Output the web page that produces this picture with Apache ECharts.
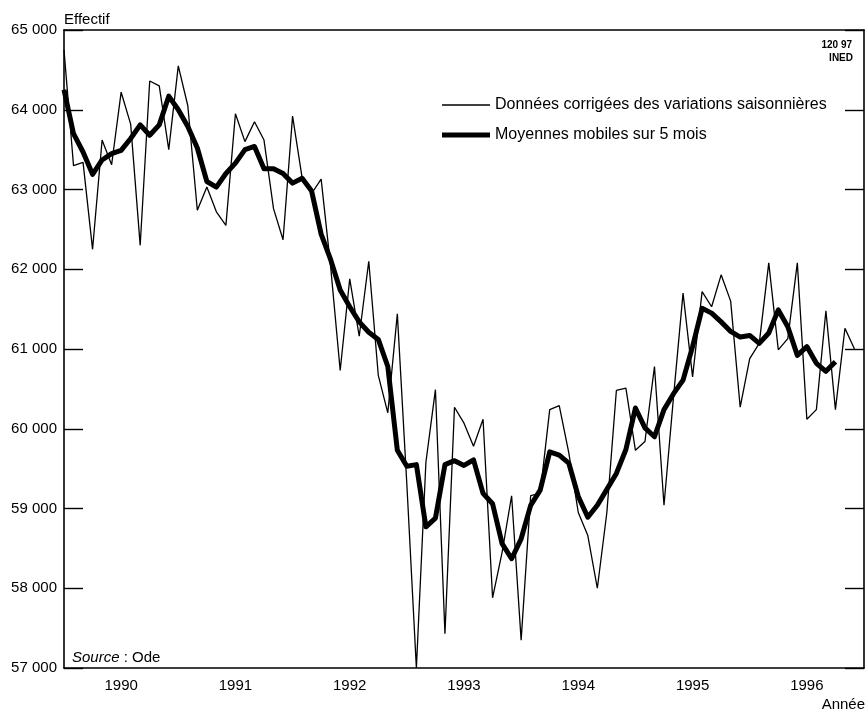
<!DOCTYPE html>
<html>
<head>
<meta charset="utf-8">
<title>Effectif</title>
<script src="https://cdn.jsdelivr.net/npm/echarts@6/dist/echarts.min.js"></script>
<style>
  html, body { margin: 0; padding: 0; background: #fff; }
  #main { width: 866px; height: 712px; }
</style>
</head>
<body>
<div id="main"></div>
<script>
// années (une graduation par année, libellé au milieu)
var annees = ['1990', '1991', '1992', '1993', '1994', '1995', '1996'];

// axe vertical
var yMin = 57000;
var yMax = 65000;
var yPas = 1000;

// nombre de mois couverts par l'axe horizontal (janv. 1990 -> déc. 1996)
var nbMois = 84;

// données mensuelles corrigées des variations saisonnières (à partir de janv. 1990)
var donneesCvs = [
  64750, 63300, 63340, 62250, 63620, 63310, 64220, 63820, 62300, 64360, 64300, 63500,
  64550, 64050, 62740, 63030, 62720, 62550, 63950, 63600, 63850, 63620, 62760, 62370,
  63920, 63150, 62950, 63130, 62030, 60730, 61880, 61160, 62100, 60670, 60200, 61440,
  59300, 57000, 59580, 60490, 57430, 60270, 60070, 59780, 60120, 57880, 58450, 59160,
  57350, 59160, 59190, 60240, 60290, 59700, 58950, 58660, 58000, 58950, 60480, 60510,
  59730, 59840, 60780, 59040, 60400, 61700, 60650, 61720, 61530, 61930, 61600, 60270,
  60880, 61070, 62080, 60990, 61130, 62080, 60120, 60240, 61480, 60240, 61260, 61000
];

// moyennes mobiles sur 5 mois
var moyennes5 = [
  64250, 63700, 63470, 63190, 63370, 63450, 63490, 63640, 63810, 63680, 63810, 64170,
  64000, 63790, 63520, 63100, 63030, 63200, 63330, 63500, 63540, 63260, 63260, 63200,
  63080, 63140, 62980, 62440, 62120, 61740, 61530, 61340, 61210, 61120, 60780, 59730,
  59530, 59550, 58770, 58880, 59550, 59600, 59540, 59610, 59190, 59060, 58560, 58370,
  58620, 59040, 59230, 59710, 59670, 59570, 59150, 58890, 59040, 59240, 59440, 59740,
  60260, 60010, 59900, 60240, 60440, 60610, 61030, 61510, 61450, 61340, 61220, 61150,
  61170, 61070, 61200, 61490, 61280, 60920, 61030, 60820, 60720, 60840
];

(function() {
  var myChart = echarts.init(document.getElementById('main'));
  var police = '"Liberation Sans", Arial, Helvetica, sans-serif';

  function points(arr) {
    return arr.map(function(v, i) { return [i, v]; });
  }

  var option = {
    animation: false,
    backgroundColor: '#fff',
    textStyle: { fontFamily: police, color: '#000' },
    grid: {
      left: 64,
      right: 2,
      top: 30,
      bottom: 44
    },
    legend: {
      orient: 'vertical',
      left: 442,
      top: 97,
      padding: 0,
      itemWidth: 48,
      itemHeight: 14,
      itemGap: 14,
      selectedMode: false,
      textStyle: { fontSize: 16, color: '#000', fontFamily: police },
      data: [
        { name: 'Données corrigées des variations saisonnières', icon: 'path://M0,0L48,0L48,1.4L0,1.4Z' },
        { name: 'Moyennes mobiles sur 5 mois', icon: 'path://M0,0L50,0L50,5L0,5Z' }
      ]
    },
    xAxis: [{
      // libellés des années et graduations du bas
      type: 'category',
      position: 'bottom',
      data: annees,
      boundaryGap: true,
      axisLine: { lineStyle: { color: '#000', width: 1.6 } },
      axisTick: { inside: true, length: 19, lineStyle: { color: '#000', width: 1.4 } },
      axisLabel: { color: '#000', fontSize: 15, margin: 10, fontFamily: police },
      splitLine: { show: false }
    }, {
      // graduations du haut
      type: 'category',
      position: 'top',
      data: annees,
      boundaryGap: true,
      axisLine: { lineStyle: { color: '#000', width: 1.6 } },
      axisTick: { inside: true, length: 17, lineStyle: { color: '#000', width: 1.4 } },
      axisLabel: { show: false },
      splitLine: { show: false }
    }, {
      // axe des mois pour les courbes
      type: 'value',
      min: 0,
      max: nbMois,
      show: false
    }],
    yAxis: [{
      type: 'value',
      name: 'Effectif',
      nameLocation: 'end',
      nameGap: 3,
      nameTextStyle: { align: 'left', verticalAlign: 'bottom', fontSize: 15, color: '#000', fontFamily: police },
      min: yMin,
      max: yMax,
      interval: yPas,
      axisLine: { show: true, lineStyle: { color: '#000', width: 1.6 } },
      axisTick: { show: true, inside: true, length: 19, lineStyle: { color: '#000', width: 1.4 } },
      axisLabel: {
        color: '#000',
        fontSize: 15,
        margin: 7,
        fontFamily: police,
        formatter: function(v) {
          var s = String(v);
          return s.slice(0, s.length - 3) + ' ' + s.slice(-3);
        }
      },
      splitLine: { show: false }
    }, {
      type: 'value',
      position: 'right',
      min: yMin,
      max: yMax,
      interval: yPas,
      axisLine: { show: true, lineStyle: { color: '#000', width: 1.6 } },
      axisTick: { show: true, inside: true, length: 19, lineStyle: { color: '#000', width: 1.4 } },
      axisLabel: { show: false },
      splitLine: { show: false }
    }],
    graphic: [{
      type: 'text',
      right: 14,
      top: 40,
      style: { text: '120 97', font: 'bold 10px ' + police, fill: '#000', textAlign: 'right' }
    }, {
      type: 'text',
      right: 13,
      top: 53,
      style: { text: 'INED', font: 'bold 10px ' + police, fill: '#000', textAlign: 'right' }
    }, {
      type: 'text',
      left: 72,
      top: 650,
      style: {
        text: '{i|Source} : Ode',
        rich: {
          i: { fontStyle: 'italic', fontSize: 15, fontFamily: police, fill: '#000' }
        },
        fontSize: 15,
        fontFamily: police,
        fill: '#000'
      }
    }, {
      type: 'text',
      right: 1,
      top: 697,
      style: { text: 'Année', fontSize: 15, fontFamily: police, fill: '#000' }
    }],
    series: [{
      name: 'Données corrigées des variations saisonnières',
      type: 'line',
      xAxisIndex: 2,
      yAxisIndex: 0,
      data: points(donneesCvs),
      symbol: 'none',
      lineStyle: { color: '#000', width: 1.3 },
      itemStyle: { color: '#000' },
      emphasis: { disabled: true },
      z: 3
    }, {
      name: 'Moyennes mobiles sur 5 mois',
      type: 'line',
      xAxisIndex: 2,
      yAxisIndex: 0,
      data: points(moyennes5),
      symbol: 'none',
      lineStyle: { color: '#000', width: 5, join: 'round' },
      itemStyle: { color: '#000' },
      emphasis: { disabled: true },
      z: 4
    }]
  };

  myChart.setOption(option);
  window.addEventListener('resize', function() {
    myChart.resize();
  });
})();
</script>
</body>
</html>
